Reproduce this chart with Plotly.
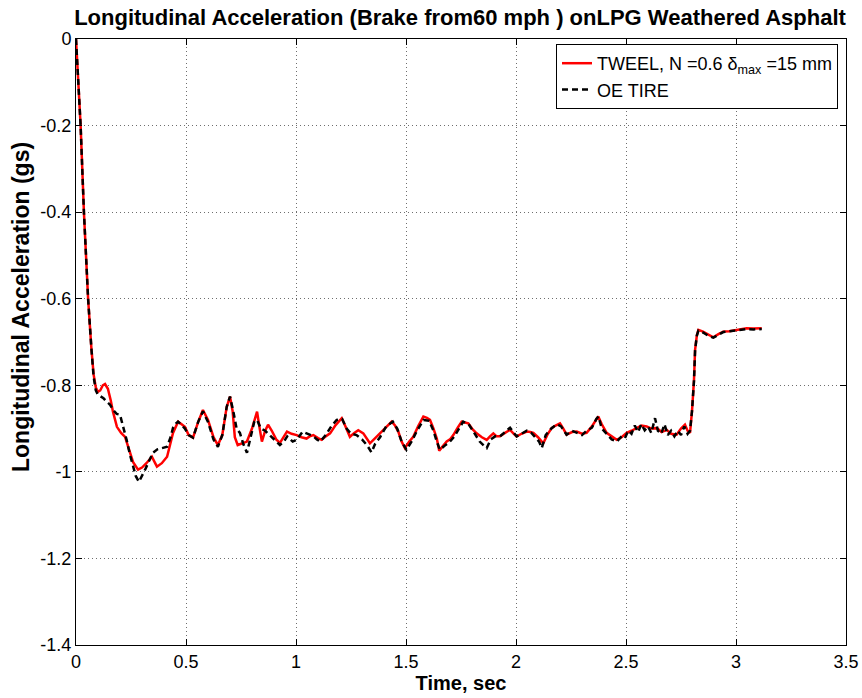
import plotly.graph_objects as go

# Braking run from 60 mph: longitudinal acceleration vs time
t_tweel = [0.000, 0.010, 0.021, 0.036, 0.055, 0.070, 0.080, 0.090, 0.100, 0.110,
           0.122, 0.132, 0.145, 0.158, 0.168, 0.186, 0.205, 0.223, 0.240, 0.259,
           0.282, 0.300, 0.320, 0.345, 0.358, 0.368, 0.390, 0.414, 0.441, 0.464,
           0.480, 0.495, 0.512, 0.532, 0.555, 0.577, 0.600, 0.625, 0.645, 0.665,
           0.685, 0.700, 0.712, 0.722, 0.735, 0.755, 0.777, 0.800, 0.823, 0.835,
           0.845, 0.860, 0.873, 0.890, 0.910, 0.927, 0.945, 0.959, 0.980, 1.003,
           1.025, 1.048, 1.062, 1.079, 1.100, 1.117, 1.135, 1.155, 1.180, 1.208,
           1.225, 1.245, 1.265, 1.283, 1.306, 1.336, 1.360, 1.382, 1.410, 1.435,
           1.450, 1.465, 1.480, 1.495, 1.515, 1.533, 1.555, 1.579, 1.595, 1.609,
           1.625, 1.640, 1.651, 1.668, 1.685, 1.700, 1.715, 1.735, 1.753, 1.768,
           1.783, 1.800, 1.821, 1.845, 1.867, 1.882, 1.897, 1.912, 1.927, 1.950,
           1.973, 1.990, 2.003, 2.025, 2.049, 2.065, 2.079, 2.100, 2.124, 2.145,
           2.162, 2.180, 2.200, 2.215, 2.230, 2.255, 2.276, 2.300, 2.321, 2.345,
           2.374, 2.390, 2.412, 2.435, 2.458, 2.480, 2.503, 2.525, 2.549, 2.570,
           2.594, 2.615, 2.640, 2.662, 2.685, 2.705, 2.730, 2.750, 2.768, 2.780,
           2.791, 2.800, 2.809, 2.814, 2.822, 2.829, 2.850, 2.875, 2.897, 2.920,
           2.942, 2.970, 3.003, 3.048, 3.080, 3.117]
a_tweel = [0.000, -0.095, -0.200, -0.400, -0.600, -0.715, -0.775, -0.805, -0.815, -0.812,
           -0.800, -0.797, -0.808, -0.835, -0.861, -0.896, -0.910, -0.919, -0.945, -0.977,
           -0.995, -0.990, -0.980, -0.965, -0.978, -0.988, -0.980, -0.965, -0.910, -0.884,
           -0.890, -0.896, -0.915, -0.921, -0.885, -0.857, -0.880, -0.920, -0.938, -0.915,
           -0.850, -0.826, -0.860, -0.920, -0.938, -0.935, -0.930, -0.900, -0.861, -0.900,
           -0.930, -0.905, -0.891, -0.905, -0.925, -0.933, -0.918, -0.907, -0.912, -0.915,
           -0.920, -0.923, -0.918, -0.915, -0.922, -0.926, -0.918, -0.911, -0.892, -0.876,
           -0.895, -0.919, -0.910, -0.904, -0.911, -0.934, -0.922, -0.911, -0.895, -0.884,
           -0.893, -0.907, -0.930, -0.945, -0.930, -0.919, -0.895, -0.872, -0.875, -0.880,
           -0.900, -0.923, -0.951, -0.940, -0.930, -0.925, -0.915, -0.898, -0.884, -0.886,
           -0.888, -0.900, -0.911, -0.920, -0.926, -0.918, -0.911, -0.918, -0.918, -0.910,
           -0.903, -0.912, -0.918, -0.912, -0.907, -0.908, -0.910, -0.920, -0.934, -0.912,
           -0.899, -0.893, -0.888, -0.900, -0.914, -0.908, -0.907, -0.912, -0.910, -0.895,
           -0.872, -0.890, -0.910, -0.918, -0.926, -0.920, -0.910, -0.905, -0.899, -0.893,
           -0.895, -0.900, -0.899, -0.908, -0.903, -0.912, -0.914, -0.900, -0.891, -0.905,
           -0.910, -0.860, -0.788, -0.718, -0.685, -0.672, -0.676, -0.684, -0.689, -0.682,
           -0.676, -0.675, -0.672, -0.668, -0.669, -0.668]

t_oe = [0.000, 0.010, 0.021, 0.036, 0.055, 0.070, 0.080, 0.090, 0.100, 0.110,
        0.125, 0.140, 0.155, 0.170, 0.185, 0.200, 0.215, 0.230, 0.245, 0.259,
        0.272, 0.286, 0.300, 0.314, 0.332, 0.350, 0.370, 0.395, 0.414, 0.430,
        0.441, 0.455, 0.464, 0.480, 0.495, 0.512, 0.532, 0.555, 0.577, 0.600,
        0.625, 0.645, 0.665, 0.685, 0.700, 0.715, 0.730, 0.745, 0.760, 0.777,
        0.795, 0.810, 0.823, 0.840, 0.860, 0.880, 0.905, 0.927, 0.945, 0.960,
        0.985, 1.005, 1.030, 1.055, 1.080, 1.095, 1.110, 1.135, 1.160, 1.185,
        1.210, 1.230, 1.250, 1.275, 1.300, 1.325, 1.343, 1.360, 1.382, 1.410,
        1.440, 1.460, 1.480, 1.502, 1.525, 1.550, 1.580, 1.605, 1.625, 1.640,
        1.654, 1.675, 1.700, 1.720, 1.740, 1.760, 1.785, 1.810, 1.835, 1.855,
        1.867, 1.885, 1.905, 1.927, 1.950, 1.973, 1.990, 2.003, 2.025, 2.049,
        2.070, 2.090, 2.105, 2.117, 2.135, 2.162, 2.185, 2.205, 2.230, 2.255,
        2.280, 2.300, 2.321, 2.345, 2.365, 2.375, 2.390, 2.412, 2.435, 2.458,
        2.480, 2.495, 2.510, 2.525, 2.540, 2.555, 2.570, 2.585, 2.600, 2.615,
        2.632, 2.645, 2.660, 2.675, 2.690, 2.705, 2.720, 2.735, 2.750, 2.765,
        2.780, 2.791, 2.800, 2.809, 2.814, 2.822, 2.829, 2.850, 2.875, 2.897,
        2.920, 2.942, 2.970, 3.003, 3.048, 3.080, 3.117]
a_oe = [0.000, -0.095, -0.200, -0.400, -0.600, -0.715, -0.780, -0.812, -0.822, -0.825,
        -0.830, -0.838, -0.845, -0.858, -0.866, -0.868, -0.895, -0.926, -0.960, -0.988,
        -1.010, -1.023, -1.010, -0.995, -0.975, -0.956, -0.948, -0.945, -0.942, -0.920,
        -0.898, -0.888, -0.884, -0.892, -0.900, -0.915, -0.921, -0.885, -0.860, -0.885,
        -0.925, -0.942, -0.915, -0.850, -0.826, -0.860, -0.900, -0.910, -0.935, -0.956,
        -0.920, -0.885, -0.880, -0.900, -0.905, -0.915, -0.928, -0.938, -0.930, -0.918,
        -0.930, -0.925, -0.907, -0.912, -0.918, -0.925, -0.930, -0.915, -0.895, -0.880,
        -0.878, -0.900, -0.912, -0.915, -0.925, -0.940, -0.955, -0.935, -0.920, -0.895,
        -0.884, -0.900, -0.930, -0.949, -0.930, -0.905, -0.880, -0.882, -0.905, -0.930,
        -0.949, -0.940, -0.930, -0.918, -0.900, -0.884, -0.890, -0.910, -0.930, -0.940,
        -0.945, -0.925, -0.918, -0.918, -0.908, -0.898, -0.910, -0.918, -0.912, -0.905,
        -0.910, -0.922, -0.930, -0.945, -0.915, -0.899, -0.890, -0.895, -0.914, -0.905,
        -0.910, -0.915, -0.905, -0.898, -0.878, -0.872, -0.900, -0.912, -0.925, -0.930,
        -0.918, -0.922, -0.905, -0.912, -0.893, -0.908, -0.890, -0.904, -0.895, -0.910,
        -0.876, -0.905, -0.912, -0.890, -0.915, -0.905, -0.918, -0.905, -0.915, -0.895,
        -0.912, -0.905, -0.860, -0.790, -0.720, -0.685, -0.674, -0.678, -0.686, -0.690,
        -0.683, -0.677, -0.675, -0.673, -0.670, -0.671, -0.670]

x_ticks = [0, 0.5, 1, 1.5, 2, 2.5, 3, 3.5]
x_labels = ["0", "0.5", "1", "1.5", "2", "2.5", "3", "3.5"]
y_ticks = [0, -0.2, -0.4, -0.6, -0.8, -1.0, -1.2, -1.4]
y_labels = ["0", "-0.2", "-0.4", "-0.6", "-0.8", "-1", "-1.2", "-1.4"]

FONT = "Liberation Sans, Arial, Helvetica, sans-serif"

# plot-area box in pixels
L, R, T, B = 76, 846, 39, 645
W, H = 862, 698
PW, PH = R - L, B - T

fig = go.Figure()
fig.add_trace(go.Scatter(
    x=t_tweel, y=a_tweel, mode="lines",
    name="TWEEL, N =0.6 \u03b4<sub>max</sub> =15 mm",
    line=dict(color="#ff0000", width=2.5),
))
fig.add_trace(go.Scatter(
    x=t_oe, y=a_oe, mode="lines",
    name="OE TIRE",
    line=dict(color="#000000", width=2.5, dash="6px,4px"),
))

axis_common = dict(
    showline=True, linecolor="#000000", linewidth=1, mirror="ticks",
    ticks="inside", ticklen=6, tickcolor="#000000",
    showgrid=True, gridcolor="#6e6e6e", gridwidth=1, griddash="1px,3px",
    zeroline=False, automargin=False,
    tickfont=dict(family=FONT, size=18, color="#000000"),
)

fig.update_layout(
    width=W, height=H,
    margin=dict(l=L, r=W - R, t=T, b=H - B),
    paper_bgcolor="#ffffff", plot_bgcolor="#ffffff",
    title=dict(
        text="<b>Longitudinal Acceleration (Brake from60 mph ) onLPG Weathered Asphalt</b>",
        font=dict(family=FONT, size=22, color="#000000"),
        x=460 / W, xanchor="center", y=1 - 17 / H, yanchor="middle", yref="container",
    ),
    xaxis=dict(
        range=[0, 3.5], tickvals=x_ticks, ticktext=x_labels,
        title=dict(text="<b>Time, sec</b>", font=dict(family=FONT, size=20, color="#000000"), standoff=4),
        **axis_common,
    ),
    yaxis=dict(
        range=[-1.4, 0], tickvals=y_ticks, ticktext=y_labels,
        **axis_common,
    ),
    legend=dict(
        x=(838 - L) / PW, xanchor="right", y=1 - 5 / PH, yanchor="top",
        bgcolor="#ffffff", bordercolor="#000000", borderwidth=1,
        font=dict(family=FONT, size=18, color="#000000"),
        tracegroupgap=0, itemwidth=30,
    ),
    annotations=[dict(
        text="<b>Longitudinal Acceleration (gs)</b>",
        xref="paper", yref="paper", x=(21 - L) / PW, y=(B - 307) / PH,
        xanchor="center", yanchor="middle", textangle=-90, showarrow=False,
        font=dict(family=FONT, size=23, color="#000000"),
    )],
    showlegend=True,
)

fig.write_html("out.html")
